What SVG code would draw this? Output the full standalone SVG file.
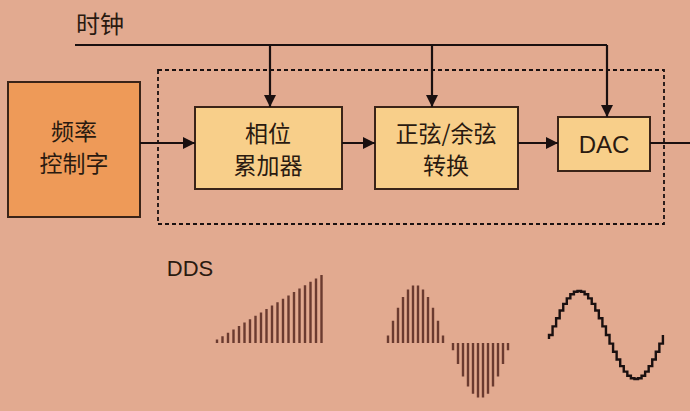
<svg xmlns="http://www.w3.org/2000/svg" width="690" height="411" viewBox="0 0 690 411">
<style>
.t{font-family:"Noto Sans CJK SC","Liberation Sans",sans-serif;fill:#2a1a10;text-anchor:middle}
.b{stroke:#3a2418;stroke-width:2}
.w{stroke:#1a1010;stroke-width:2.4;fill:none}
.bar{stroke:#6b3b30;stroke-width:2.4;fill:none}
</style>
<defs><marker id="m" viewBox="0 0 10 10" refX="10" refY="5" markerWidth="12" markerHeight="12" orient="auto" markerUnits="userSpaceOnUse"><path d="M0 0L10 5L0 10z" fill="#1a1010"/></marker></defs>
<rect width="690" height="411" fill="#E2AA90"/>
<text class="t" x="100" y="33" font-size="24">时钟</text>
<text class="t" x="190" y="276" font-size="22" style="font-family:'Liberation Sans',sans-serif">DDS</text>
<rect x="158" y="70" width="506" height="154" fill="none" stroke="#1a1010" stroke-width="1.8" stroke-dasharray="4,3"/>
<g id="freq"><rect class="b" x="8" y="82" width="132" height="135" fill="#EE9A58"/><text class="t" x="74" y="140" font-size="23">频率</text><text class="t" x="74" y="172" font-size="23">控制字</text></g>
<g id="phase"><rect class="b" x="195" y="107" width="147" height="82" fill="#F8CF8A"/><text class="t" x="268" y="142" font-size="23">相位</text><text class="t" x="268" y="174" font-size="23">累加器</text></g>
<g id="sincos"><rect class="b" x="375" y="107" width="143" height="82" fill="#F8CF8A"/><text class="t" x="446" y="142" font-size="23">正弦/余弦</text><text class="t" x="446" y="174" font-size="23">转换</text></g>
<g id="dac"><rect class="b" x="558" y="117" width="92" height="54" fill="#F8CF8A"/><text class="t" x="604" y="153" font-size="24" style="font-family:'Liberation Sans',sans-serif">DAC</text></g>
<g id="connectors" fill="none" stroke="#1a1010" stroke-width="2.2">
<path d="M75 45H607"/>
<path d="M270 45V107" marker-end="url(#m)"/>
<path d="M432 45V107" marker-end="url(#m)"/>
<path d="M607 45V117" marker-end="url(#m)"/>
<path d="M140 143H195" marker-end="url(#m)"/>
<path d="M342 143H375" marker-end="url(#m)"/>
<path d="M518 143H558" marker-end="url(#m)"/>
<path d="M650 143H690"/>
</g>
<path class="bar" d="M217 343v-3.4M222.5 343v-6.8M228 343v-10.2M233.5 343v-13.6M239 343v-17M244.5 343v-20.4M250 343v-23.8M255.5 343v-27.2M261 343v-30.6M266.5 343v-34M272 343v-37.4M277.5 343v-40.8M283 343v-44.2M288.5 343v-47.6M294 343v-51M299.5 343v-54.4M305 343v-57.8M310.5 343v-61.2M316 343v-64.6M321.5 343v-68"/>
<path class="bar" d="M388 343v-7.6M393 343v-22.2M398 343v-35.3M403 343v-46M408 343v-53.6M413 343v-57.5M418 343v-57.5M423 343v-53.6M428 343v-46M433 343v-35.3M438 343v-22.2M443 343v-7.6M453 343v7.2M458 343v21M463 343v33.5M468 343v43.6M473 343v50.8M478 343v54.5M483 343v54.5M488 343v50.8M493 343v43.6M498 343v33.5M503 343v21M508 343v7.2"/>
<path class="w" d="M549 339V335h3.56V326.4h3.56V318.2h3.56V310.5h3.56V303.9h3.56V298.4h3.56V294.3h3.56V291.8h3.56V291h3.56V291.8h3.56V294.3h3.56V298.4h3.56V303.9h3.56V310.5h3.56V318.2h3.56V326.4h3.56V335h3.56V343.6h3.56V351.8h3.56V359.5h3.56V366.1h3.56V371.6h3.56V375.7h3.56V378.2h3.56V379h3.56V378.2h3.56V375.7h3.56V371.6h3.56V366.1h3.56V359.5h3.56V351.8h3.56V343.6h3.56V335"/>
</svg>
